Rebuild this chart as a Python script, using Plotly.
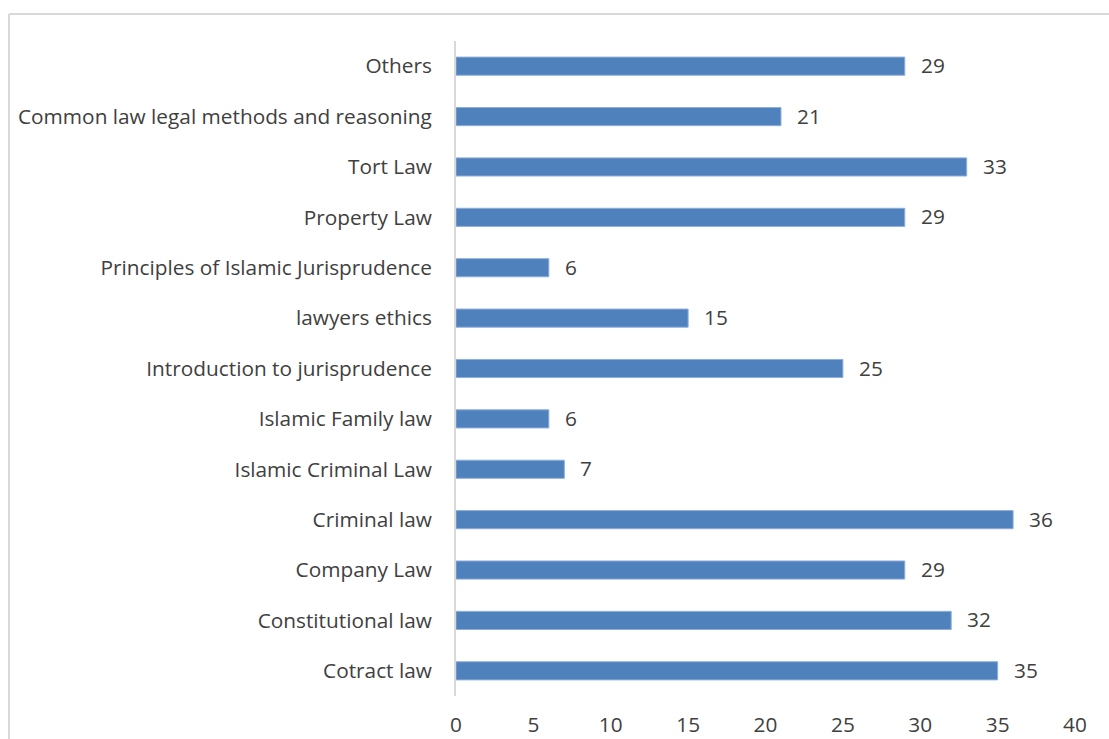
import plotly.graph_objects as go

categories = [
    "Cotract law",
    "Constitutional law",
    "Company Law",
    "Criminal law",
    "Islamic Criminal Law",
    "Islamic Family law",
    "Introduction to jurisprudence",
    "lawyers ethics",
    "Principles of Islamic Jurisprudence",
    "Property Law",
    "Tort Law",
    "Common law legal methods and reasoning",
    "Others",
]
counts = [35, 32, 29, 36, 7, 6, 25, 15, 6, 29, 33, 21, 29]
x_ticks = [0, 5, 10, 15, 20, 25, 30, 35, 40]

W, H = 1109, 739
L, R, T, B = 456, 34, 41, 43
pw, ph = W - L - R, H - T - B

FONT = "Open Sans"
FS = 20.8
TXT = "#404040"

fig = go.Figure(
    go.Bar(
        x=counts,
        y=categories,
        orientation="h",
        marker=dict(color="#4F81BD", line=dict(color="#8EAEDB", width=1)),
        hoverinfo="skip",
    )
)

for c, v in zip(categories, counts):
    fig.add_annotation(
        x=v, y=c, text=str(v), showarrow=False,
        xanchor="left", xshift=14, yshift=1,
        font=dict(family=FONT, size=FS, color=TXT),
    )

# outer chart frame (left and top edges)
fx = (9 - L) / pw
fy = 1 + (T - 14) / ph
fig.add_shape(type="line", xref="paper", yref="paper", x0=fx, x1=fx, y0=fy, y1=-0.2,
              line=dict(color="#D9D9D9", width=2))
fig.add_shape(type="line", xref="paper", yref="paper", x0=fx, x1=1.2, y0=fy, y1=fy,
              line=dict(color="#D9D9D9", width=2))

fig.update_layout(
    width=W, height=H,
    margin=dict(l=L, r=R, t=T, b=B, autoexpand=False),
    plot_bgcolor="white", paper_bgcolor="white",
    bargap=0.64,
    showlegend=False,
    font=dict(family=FONT, size=FS, color=TXT),
)
fig.update_xaxes(
    range=[0, 40], tickvals=x_ticks, showgrid=False, zeroline=False,
    showline=False, ticks="", ticklabelstandoff=14, automargin=False,
    tickfont=dict(family=FONT, size=FS, color=TXT),
)
fig.update_yaxes(
    showgrid=False, zeroline=False, showline=True, linecolor="#D9D9D9", linewidth=2,
    ticks="", ticklabelstandoff=18, automargin=False,
    tickfont=dict(family=FONT, size=FS, color=TXT),
)

fig.write_html("out.html")
